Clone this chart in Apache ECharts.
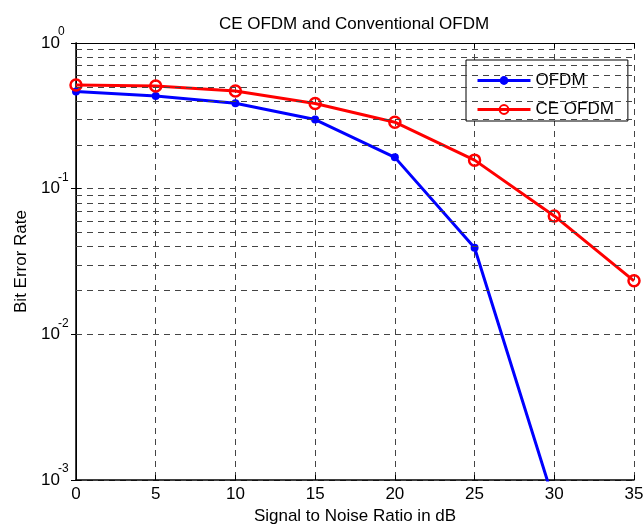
<!DOCTYPE html>
<html>
<head>
<meta charset="utf-8">
<script src="https://cdn.jsdelivr.net/npm/echarts@6/dist/echarts.min.js"></script>
<style>
html,body{margin:0;padding:0;background:#fff;}
#chart{width:643px;height:525px;}
</style>
</head>
<body>
<div id="chart"></div>
<script>
const snr = [0, 5, 10, 15, 20, 25, 30, 35];
const ofdm = [0.464, 0.433, 0.386, 0.298, 0.164, 0.0393, 0.0007];
const ceOfdm = [0.515, 0.507, 0.469, 0.384, 0.286, 0.157, 0.065, 0.0233];
const minorGridTicks = [0.002,0.003,0.004,0.005,0.006,0.007,0.008,0.009,
  0.02,0.03,0.04,0.05,0.06,0.07,0.08,0.09,
  0.2,0.3,0.4,0.5,0.6,0.7,0.8,0.9];

const FONT = "'Liberation Sans', Arial, Helvetica, sans-serif";
const gridDash = {color: '#444', type: [6, 5], width: 1};

const chart = echarts.init(document.getElementById('chart'), null, {renderer: 'canvas'});

function pairs(ys) { return ys.map((y, i) => [snr[i], y]); }
function exponent(v) { return Math.round(Math.log10(v)); }

const logAxisBase = {type: 'log', logBase: 10, min: 0.001, max: 1};

chart.setOption({
  animation: false,
  backgroundColor: '#fff',
  textStyle: {fontFamily: FONT, color: '#000'},
  title: {
    text: 'CE OFDM and Conventional OFDM',
    left: 354, top: 16, padding: 0, textAlign: 'center',
    textStyle: {fontFamily: FONT, fontSize: 17, fontWeight: 'normal', color: '#000'}
  },
  grid: {left: 76, right: 9, top: 43, bottom: 45, containLabel: false, outerBoundsMode: 'none'},
  legend: {
    data: ['OFDM', 'CE OFDM'],
    orient: 'vertical',
    left: 466, top: 60,
    padding: [12, 14, 3, 10],
    itemGap: 12,
    itemWidth: 53, itemHeight: 11,
    lineStyle: {width: 3},
    backgroundColor: '#fff',
    borderColor: '#000', borderWidth: 1, borderRadius: 0,
    textStyle: {fontFamily: FONT, fontSize: 17, color: '#000'}
  },
  xAxis: [{
    type: 'value', min: 0, max: 35, interval: 5,
    axisLine: {show: true, lineStyle: {color: '#000', width: 1.5}},
    axisTick: {show: true, inside: true, length: 5, lineStyle: {color: '#000'}},
    axisLabel: {fontFamily: FONT, fontSize: 17, color: '#000', margin: 6},
    splitLine: {show: true, lineStyle: gridDash},
    name: 'Signal to Noise Ratio in dB',
    nameLocation: 'middle', nameGap: 28,
    nameTextStyle: {fontFamily: FONT, fontSize: 17, color: '#000'}
  }, {
    type: 'value', min: 0, max: 35, interval: 5, position: 'top',
    axisLine: {show: true, lineStyle: {color: '#000', width: 1}},
    axisTick: {show: true, inside: true, length: 5, lineStyle: {color: '#000'}},
    axisLabel: {show: false}, splitLine: {show: false}
  }],
  yAxis: [Object.assign({}, logAxisBase, {
    position: 'left',
    axisLine: {show: true, lineStyle: {color: '#000', width: 1.5}},
    axisTick: {show: true, inside: true, length: 5, lineStyle: {color: '#000'}},
    axisLabel: {
      margin: 35, align: 'left', verticalAlign: 'middle',
      fontFamily: FONT, fontSize: 17, color: '#000',
      formatter: function () { return '10'; }
    },
    splitLine: {show: true, lineStyle: gridDash},
    name: 'Bit Error Rate',
    nameLocation: 'middle', nameGap: 46,
    nameTextStyle: {fontFamily: FONT, fontSize: 17, color: '#000'}
  }), Object.assign({}, logAxisBase, {
    position: 'right',
    axisLine: {show: true, lineStyle: {color: '#000', width: 1}},
    axisTick: {show: true, inside: true, length: 5, lineStyle: {color: '#000'}},
    axisLabel: {show: false}, splitLine: {show: false}
  }), Object.assign({}, logAxisBase, {
    position: 'left', offset: 0,
    axisLine: {show: false}, axisTick: {show: false}, splitLine: {show: false},
    axisLabel: {
      margin: 18, align: 'left', verticalAlign: 'bottom',
      fontFamily: FONT, fontSize: 12, lineHeight: 12, color: '#000',
      padding: [0, 0, 5, 0],
      formatter: function (v) { return String(exponent(v)); }
    }
  })],
  series: [{
    name: 'minor grid',
    type: 'line',
    z: 1,
    silent: true,
    data: pairs(ceOfdm),
    symbol: 'none',
    lineStyle: {opacity: 0},
    markLine: {
      silent: true,
      symbol: ['none', 'none'],
      label: {show: false},
      lineStyle: gridDash,
      data: minorGridTicks.map(v => ({yAxis: v}))
    }
  }, {
    name: 'OFDM',
    type: 'line',
    z: 3,
    data: pairs(ofdm),
    color: '#0000ff',
    symbol: 'circle', symbolSize: 8,
    lineStyle: {color: '#0000ff', width: 3},
    itemStyle: {color: '#0000ff'}
  }, {
    name: 'CE OFDM',
    type: 'line',
    z: 4,
    data: pairs(ceOfdm),
    color: '#ff0000',
    symbol: 'circle', symbolSize: 11,
    lineStyle: {color: '#ff0000', width: 3},
    itemStyle: {color: 'rgba(255,255,255,0)', borderColor: '#ff0000', borderWidth: 2.5}
  }]
});
</script>
</body>
</html>
